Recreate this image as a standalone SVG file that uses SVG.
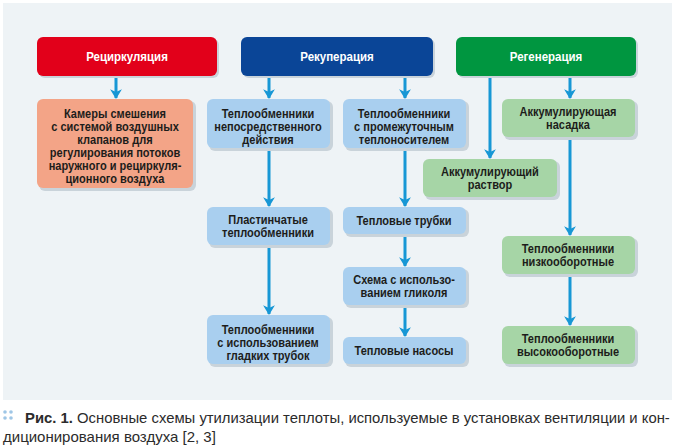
<svg xmlns="http://www.w3.org/2000/svg" width="676" height="448" viewBox="0 0 676 448">
<style>
.hdr text{font-family:"Liberation Sans",Arial,sans-serif;font-weight:bold;font-size:12.5px;fill:#fff;text-anchor:middle}
.box text{font-family:"Liberation Sans",Arial,sans-serif;font-weight:bold;font-size:12px;fill:#1d1d1b;text-anchor:middle}
.sh{fill:#c9d3da}
.salmon{fill:#f3a487}
.lb{fill:#a9cfef}
.lg{fill:#a6d5a6}
.conn line{stroke:#1797d5;stroke-width:3;marker-end:url(#ah)}
.cap{font-family:"Liberation Sans",Arial,sans-serif;font-size:15px;fill:#2b2b2b}
</style>
<defs>
<marker id="ah" viewBox="0 0 10 14" refX="9" refY="7" markerWidth="3.3" markerHeight="4.6" markerUnits="strokeWidth" orient="auto">
<path d="M0,1 L10,7 L0,13 L3,7 Z" fill="#1797d5"/>
</marker>
</defs>
<rect x="0" y="0" width="676" height="448" fill="#ffffff"/>
<rect x="3" y="3" width="669" height="397" fill="#eef3f6"/>

<g class="conn">
<line x1="116" y1="77" x2="116" y2="98"/>
<line x1="269" y1="77" x2="269" y2="98"/>
<line x1="405" y1="77" x2="405" y2="98"/>
<line x1="490" y1="77" x2="490" y2="158"/>
<line x1="570" y1="77" x2="570" y2="98"/>
<line x1="269" y1="150" x2="269" y2="206"/>
<line x1="269" y1="246" x2="269" y2="314"/>
<line x1="405" y1="150" x2="405" y2="206"/>
<line x1="405" y1="235" x2="405" y2="266"/>
<line x1="405" y1="305" x2="405" y2="336"/>
<line x1="570" y1="138" x2="570" y2="235"/>
<line x1="570" y1="274" x2="570" y2="325"/>
</g>

<g id="recirc" class="hdr">
<rect x="39" y="39" width="180" height="39" rx="6" class="sh"/>
<rect x="37" y="37" width="180" height="39" rx="6" fill="#e2001a"/>
<g transform="translate(127 0) scale(0.92 1)"><text x="0" y="61">Рециркуляция</text></g>
</g>
<g id="recup" class="hdr">
<rect x="243" y="39" width="192" height="39" rx="6" class="sh"/>
<rect x="241" y="37" width="192" height="39" rx="6" fill="#0a4597"/>
<g transform="translate(337 0) scale(0.92 1)"><text x="0" y="61">Рекуперация</text></g>
</g>
<g id="regen" class="hdr">
<rect x="458" y="39" width="180" height="39" rx="6" class="sh"/>
<rect x="456" y="37" width="180" height="39" rx="6" fill="#009640"/>
<g transform="translate(546 0) scale(0.92 1)"><text x="0" y="61">Регенерация</text></g>
</g>

<g id="mix" class="box">
<rect x="39" y="101" width="157" height="90" rx="6" class="sh"/>
<rect x="37" y="99" width="156" height="89" rx="6" class="salmon"/>
<g transform="translate(115 0) scale(0.92 1)">
<text x="0" y="118">Камеры смешения</text>
<text x="0" y="131">с системой воздушных</text>
<text x="0" y="144">клапанов для</text>
<text x="0" y="157">регулирования потоков</text>
<text x="0" y="170">наружного и рециркуля-</text>
<text x="0" y="183">ционного воздуха</text>
</g>
</g>

<g id="direct" class="box">
<rect x="209" y="101" width="124" height="50" rx="6" class="sh"/>
<rect x="207" y="99" width="123" height="49" rx="6" class="lb"/>
<g transform="translate(268 0) scale(0.92 1)">
<text x="0" y="118">Теплообменники</text>
<text x="0" y="131">непосредственного</text>
<text x="0" y="144">действия</text>
</g>
</g>

<g id="inter" class="box">
<rect x="345" y="101" width="124" height="50" rx="6" class="sh"/>
<rect x="343" y="99" width="123" height="49" rx="6" class="lb"/>
<g transform="translate(404 0) scale(0.92 1)">
<text x="0" y="118">Теплообменники</text>
<text x="0" y="131">с промежуточным</text>
<text x="0" y="144">теплоносителем</text>
</g>
</g>

<g id="nasadka" class="box">
<rect x="504" y="101" width="134" height="39" rx="6" class="sh"/>
<rect x="502" y="99" width="133" height="38" rx="6" class="lg"/>
<g transform="translate(568 0) scale(0.92 1)">
<text x="0" y="116">Аккумулирующая</text>
<text x="0" y="129">насадка</text>
</g>
</g>

<g id="rastvor" class="box">
<rect x="425" y="161" width="135" height="39" rx="6" class="sh"/>
<rect x="423" y="159" width="134" height="38" rx="6" class="lg"/>
<g transform="translate(490 0) scale(0.92 1)">
<text x="0" y="176">Аккумулирующий</text>
<text x="0" y="189">раствор</text>
</g>
</g>

<g id="plate" class="box">
<rect x="209" y="209" width="124" height="39" rx="6" class="sh"/>
<rect x="207" y="207" width="123" height="38" rx="6" class="lb"/>
<g transform="translate(268 0) scale(0.92 1)">
<text x="0" y="224">Пластинчатые</text>
<text x="0" y="237">теплообменники</text>
</g>
</g>

<g id="smooth" class="box">
<rect x="209" y="317" width="124" height="50" rx="6" class="sh"/>
<rect x="207" y="315" width="123" height="49" rx="6" class="lb"/>
<g transform="translate(268 0) scale(0.92 1)">
<text x="0" y="334">Теплообменники</text>
<text x="0" y="347">с использованием</text>
<text x="0" y="360">гладких трубок</text>
</g>
</g>

<g id="pipes" class="box">
<rect x="345" y="209" width="124" height="28" rx="6" class="sh"/>
<rect x="343" y="207" width="123" height="27" rx="6" class="lb"/>
<g transform="translate(404 0) scale(0.92 1)">
<text x="0" y="225">Тепловые трубки</text>
</g>
</g>

<g id="glycol" class="box">
<rect x="345" y="269" width="124" height="39" rx="6" class="sh"/>
<rect x="343" y="267" width="123" height="38" rx="6" class="lb"/>
<g transform="translate(404 0) scale(0.92 1)">
<text x="0" y="284">Схема с использо-</text>
<text x="0" y="297">ванием гликоля</text>
</g>
</g>

<g id="pumps" class="box">
<rect x="345" y="339" width="124" height="28" rx="6" class="sh"/>
<rect x="343" y="337" width="123" height="27" rx="6" class="lb"/>
<g transform="translate(404 0) scale(0.92 1)">
<text x="0" y="355">Тепловые насосы</text>
</g>
</g>

<g id="low" class="box">
<rect x="504" y="238" width="134" height="39" rx="6" class="sh"/>
<rect x="502" y="236" width="133" height="38" rx="6" class="lg"/>
<g transform="translate(568 0) scale(0.92 1)">
<text x="0" y="253">Теплообменники</text>
<text x="0" y="266">низкооборотные</text>
</g>
</g>

<g id="high" class="box">
<rect x="504" y="328" width="134" height="39" rx="6" class="sh"/>
<rect x="502" y="326" width="133" height="38" rx="6" class="lg"/>
<g transform="translate(568 0) scale(0.92 1)">
<text x="0" y="343">Теплообменники</text>
<text x="0" y="356">высокооборотные</text>
</g>
</g>

<g id="caption">
<g fill="#9fc6e6">
<circle cx="5" cy="412" r="1.8"/><circle cx="11" cy="412" r="1.8"/>
<circle cx="5" cy="418" r="1.8"/><circle cx="11" cy="418" r="1.8"/>
</g>
<g transform="translate(25 0) scale(0.99 1)">
<text class="cap" x="0" y="423"><tspan font-weight="bold">Рис. 1.</tspan> Основные схемы утилизации теплоты, используемые в установках вентиляции и кон-</text>
</g>
<text class="cap" x="3" y="442">диционирования воздуха [2, 3]</text>
</g>
</svg>
